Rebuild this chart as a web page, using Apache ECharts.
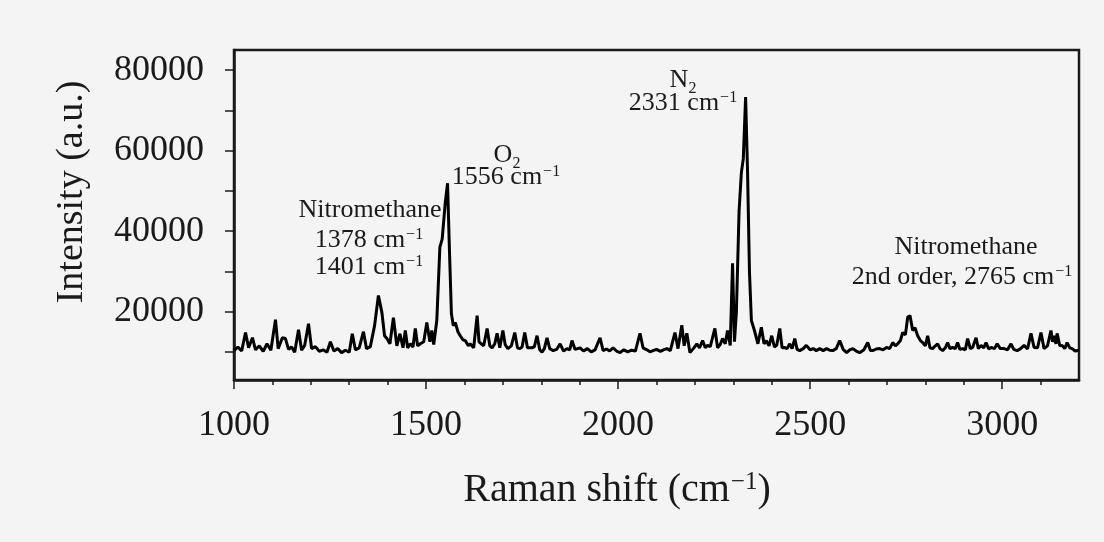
<!DOCTYPE html>
<html>
<head>
<meta charset="utf-8">
<script src="https://cdn.jsdelivr.net/npm/echarts@6/dist/echarts.min.js"></script>
<style>
html,body{margin:0;padding:0;background:#f4f4f4;}
#chart{width:1104px;height:542px;}
</style>
</head>
<body>
<div id="chart"></div>
<script>
// Raman shift (cm^-1) and intensity (a.u.)
const ramanShift = [1000,1010,1020,1030,1038,1048,1056,1066,1076,1086,1096,1108,1115,1126,1134,1142,1150,1158,1168,1176,1184,1194,1202,1212,1222,1232,1242,1251,1260,1270,1280,1290,1300,1308,1316,1326,1337,1345,1355,1366,1376,1385,1392,1398,1406,1415,1424,1432,1440,1446,1452,1459,1466,1472,1478,1485,1494,1502,1510,1515,1520,1528,1536,1542,1550,1556,1561,1566,1571,1576,1583,1589,1596,1602,1610,1615,1624,1633,1638,1641,1650,1659,1666,1672,1679,1685,1692,1700,1706,1713,1722,1731,1738,1744,1750,1757,1764,1776,1782,1789,1796,1802,1808,1815,1822,1831,1840,1849,1858,1867,1874,1880,1888,1901,1910,1920,1930,1940,1953,1961,1970,1978,1987,1996,2005,2015,2025,2035,2045,2057,2065,2075,2083,2091,2100,2110,2118,2127,2136,2148,2156,2166,2172,2179,2187,2196,2205,2212,2220,2227,2233,2240,2252,2259,2266,2272,2279,2285,2292,2298,2303,2308,2315,2321,2326,2332,2337,2342,2347,2355,2364,2373,2380,2386,2393,2400,2407,2413,2421,2427,2433,2440,2447,2453,2460,2466,2473,2482,2490,2500,2508,2516,2525,2534,2543,2551,2559,2568,2577,2586,2595,2603,2611,2620,2629,2640,2650,2657,2663,2672,2681,2690,2699,2707,2715,2722,2728,2735,2741,2748,2754,2760,2767,2773,2780,2787,2793,2800,2806,2812,2819,2826,2832,2838,2845,2852,2858,2864,2871,2878,2884,2890,2897,2904,2910,2917,2923,2932,2938,2945,2952,2958,2965,2971,2980,2987,2995,3005,3014,3023,3030,3039,3048,3057,3066,3075,3083,3092,3101,3109,3118,3127,3131,3135,3140,3143,3150,3156,3163,3169,3176,3182,3190,3195,3200];
const intensity = [10300,11200,10200,14800,11000,13500,10500,11500,10100,12000,10400,18000,10800,13500,13300,10600,11200,9900,15500,10400,11600,17000,10800,11300,10100,10500,9900,12500,10200,10800,9800,10400,9900,14500,10500,11000,15000,10800,11300,16500,24000,19800,14000,13300,12000,18500,11500,14500,11000,15300,11000,12000,11200,15800,11500,12000,12500,17300,12500,15300,11800,17800,36000,38000,47000,51900,35000,19500,16500,17300,15000,14000,13000,12800,11500,12000,11000,19000,12500,12800,11500,15800,11500,11000,12000,14600,11000,15300,11800,10800,11500,14800,11000,10800,11200,14800,11000,11000,11300,14000,10500,9900,10800,13500,10800,10300,10600,12000,10200,10800,10500,12800,10600,11000,10200,10800,10000,10500,13500,10300,10700,10200,11000,10200,9800,10500,10000,10400,10200,14600,11000,10500,10000,10300,10600,10100,10500,10800,10300,14800,10800,16600,11500,14600,9800,10800,12000,11000,12800,11000,11600,11300,15800,11000,11800,13300,12000,15300,11600,32000,12500,20000,45000,54600,58000,73300,55000,30000,17800,15300,12000,16100,12000,12800,11500,14000,11200,11600,15800,11000,11100,10800,12000,10800,13300,10600,10300,10800,11600,10500,10800,10300,10800,10300,10800,10400,10300,10800,12800,10600,9800,10500,10800,10200,9800,10500,12300,10300,10300,10700,10800,10500,11100,10800,12300,11500,12000,12800,14800,14200,18600,19000,15300,16000,14000,12800,12300,11500,14000,11000,10800,11500,12000,10800,10300,11000,12300,10800,11100,10800,12300,10600,10800,10500,13300,10800,11100,13500,10800,11600,11000,12300,10700,11100,10800,12000,10800,10800,10500,12000,10600,10300,10800,11600,10700,14600,11100,11000,14800,10800,11500,15300,12500,14000,12000,14600,11500,11600,10800,12300,11000,10800,10200,10300,10400];
const xMajorTicks = [1000,1500,2000,2500,3000];
const xMinorTicks = [1100,1200,1300,1400,1600,1700,1800,1900,2100,2200,2300,2400,2600,2700,2800,2900,3100];
const yTicks = [10000,20000,30000,40000,50000,60000,70000,80000];
const yLabels = [20000,40000,60000,80000];

const serif = '"Liberation Serif", "DejaVu Serif", serif';
const ink = '#1a1a1a';
const chart = echarts.init(document.getElementById('chart'));

function ann(x, y, text, size) {
  return {
    type: 'text', x: x, y: y,
    style: {
      text: text, fill: ink, font: size + 'px ' + serif,
      textAlign: 'center', textVerticalAlign: 'middle',
      rich: {
        n: {fontFamily: serif, fontSize: size, fill: ink, verticalAlign: 'bottom', lineHeight: size},
        sup: {fontFamily: serif, fontSize: Math.round(size*0.62), fill: ink, verticalAlign: 'top', lineHeight: size, padding: [0,0,4,1]},
        sub: {fontFamily: serif, fontSize: Math.round(size*0.62), fill: ink, verticalAlign: 'bottom', lineHeight: size, padding: [0,0,-4,0]}
      }
    }
  };
}

const data = ramanShift.map((s, i) => [s, intensity[i]]);
const plain = v => String(v);

chart.setOption({
  backgroundColor: '#f4f4f4',
  animation: false,
  grid: {left: 234, right: 25, top: 50, bottom: 162, show: true, borderColor: ink, borderWidth: 2.5, backgroundColor: 'transparent'},
  xAxis: [{
    type: 'value', min: 1000, max: 3200,
    axisLine: {show: true, lineStyle: {color: ink, width: 2.5}},
    axisTick: {show: true, length: 9, customValues: xMajorTicks, lineStyle: {color: ink, width: 1.5}},
    axisLabel: {customValues: xMajorTicks, formatter: plain, margin: 28, color: ink, fontFamily: serif, fontSize: 36},
    splitLine: {show: false}
  }, {
    type: 'value', min: 1000, max: 3200, position: 'bottom',
    axisLine: {show: false},
    axisTick: {show: true, length: 5, customValues: xMinorTicks, lineStyle: {color: ink, width: 1.5}},
    axisLabel: {show: false},
    splitLine: {show: false}
  }],
  yAxis: {
    type: 'value', min: 3000, max: 85000,
    axisLine: {show: true, lineStyle: {color: ink, width: 2.5}},
    axisTick: {show: true, length: 9, customValues: yTicks, lineStyle: {color: ink, width: 1.5}},
    axisLabel: {customValues: yLabels, formatter: plain, margin: 30, color: ink, fontFamily: serif, fontSize: 36},
    splitLine: {show: false}
  },
  series: [{
    type: 'line', xAxisIndex: 0, data: data, showSymbol: false,
    lineStyle: {color: '#000', width: 3}, z: 3
  }],
  graphic: [
    {type: 'text', x: 72, y: 192, rotation: Math.PI/2,
     style: {text: 'Intensity (a.u.)', fill: ink, font: '38px ' + serif, textAlign: 'center', textVerticalAlign: 'middle'}},
    ann(617, 490, '{n|Raman shift (cm}{sup|−1}{n|)}', 40),
    ann(370, 210, '{n|Nitromethane}', 26),
    ann(369, 240, '{n|1378 cm}{sup|−1}', 26),
    ann(369, 267, '{n|1401 cm}{sup|−1}', 26),
    ann(507, 155, '{n|O}{sub|2}', 26),
    ann(506, 177, '{n|1556 cm}{sup|−1}', 26),
    ann(683, 80, '{n|N}{sub|2}', 26),
    ann(683, 103, '{n|2331 cm}{sup|−1}', 26),
    ann(966, 247, '{n|Nitromethane}', 26),
    ann(962, 277, '{n|2nd order, 2765 cm}{sup|−1}', 26)
  ]
});
</script>
</body>
</html>
